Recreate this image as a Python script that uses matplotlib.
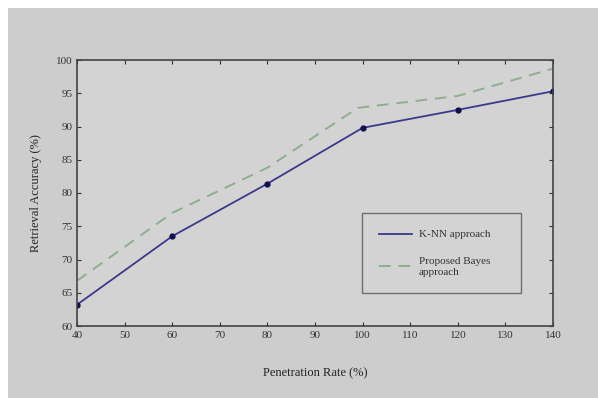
import matplotlib
matplotlib.use("Agg")
import matplotlib.pyplot as plt
from matplotlib.patches import Rectangle
from matplotlib.lines import Line2D

penetration = [40, 60, 80, 100, 120, 140]
knn = [63.2, 73.5, 81.4, 89.8, 92.5, 95.3]
bayes_x = [40, 60, 80, 99, 120, 140]
bayes = [66.8, 77.0, 83.8, 92.8, 94.6, 98.7]
xticks = list(range(40, 141, 10))
yticks = list(range(60, 101, 5))

plt.rcParams['font.family'] = ['Liberation Serif', 'DejaVu Serif']

fig = plt.figure(figsize=(5.98, 3.98), dpi=100, facecolor='white')
fig.patches.append(Rectangle((8/598, 0), 1, 1 - 8/398, transform=fig.transFigure,
                             facecolor='#cdcdcd', edgecolor='none', zorder=-10))
ax = fig.add_axes([77/598, 1 - 326/398, (553 - 77)/598, (326 - 60)/398])
ax.set_facecolor('#d3d3d3')

ax.plot(penetration, knn, '-', color='#3a3a8a', lw=1.3, marker='o', ms=3.5,
        mfc='#101050', mec='#101050')
ax.plot(bayes_x, bayes, '--', color='#8fae8f', lw=1.4, dashes=(6, 4))

ax.set_xlim(40, 140)
ax.set_ylim(60, 100)
ax.set_xticks(xticks)
ax.set_yticks(yticks)
ax.tick_params(direction='in', length=3, labelsize=8, colors='#333333', width=0.8,
               top=True, right=True)
for s in ax.spines.values():
    s.set_color('#444444')
    s.set_linewidth(1.2)

ax.set_xlabel('Penetration Rate (%)', fontsize=9, color='#222222', labelpad=20)
ax.set_ylabel('Retrieval Accuracy (%)', fontsize=9, color='#222222', labelpad=10)

handles = [Line2D([], [], color='#3a3a8a', lw=1.3),
           Line2D([], [], color='#8fae8f', lw=1.4, ls='--', dashes=(6, 4))]
labels = ['K-NN approach', 'Proposed Bayes\napproach']
leg = ax.legend(handles, labels, loc='upper left',
                bbox_to_anchor=(0.599, 0.105, 0.334, 0.32), mode='expand',
                borderaxespad=0,
                fontsize=8, frameon=True, fancybox=False, handlelength=3.0,
                borderpad=1.5, labelspacing=1.6, handletextpad=0.6,
                facecolor='#d3d3d3', edgecolor='#555555')
leg.get_frame().set_linewidth(1.0)
for t in leg.get_texts():
    t.set_color('#333333')

fig.savefig('out.png', dpi=100, facecolor=fig.get_facecolor())
